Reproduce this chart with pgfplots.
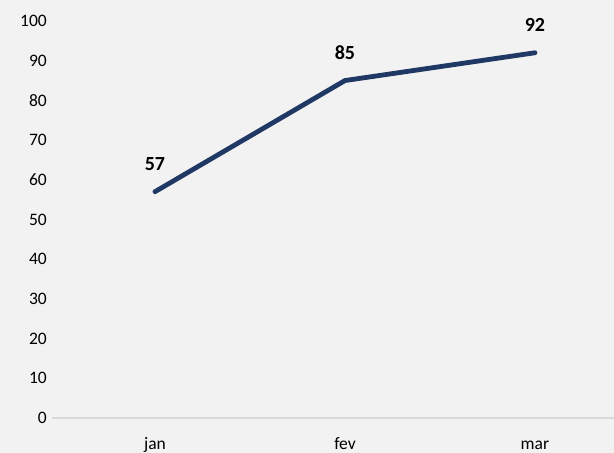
\documentclass[border=0pt]{standalone}
\usepackage{fontspec}
\setmainfont{Carlito}
\usepackage{pgfplots}
\pgfplotsset{compat=1.18}
\definecolor{bg}{HTML}{F2F2F2}
\definecolor{navy}{HTML}{203864}
\definecolor{axisgray}{HTML}{D9D9D9}

\begin{document}
\begin{tikzpicture}
\fill[bg] (0,0) rectangle (614bp,453bp);
\begin{axis}[
  at={(52bp,35bp)}, anchor=south west,
  scale only axis, width=562bp, height=397bp,
  xmin=-0.542, xmax=2.416, ymin=0, ymax=100,
  axis x line*=bottom, axis y line*=left,
  x axis line style={draw=axisgray, line width=1.5bp, -},
  y axis line style={draw=none},
  xtick={0,1,2}, xticklabels={jan,fev,mar},
  ytick={0,10,...,100},
  major tick length=0pt,
  /pgf/number format/assume math mode=true,
  tick label style={font=\fontsize{17.5bp}{20bp}\selectfont, text=black},
  xticklabel style={anchor=base, inner sep=0pt, yshift=-31bp},
  yticklabel style={anchor=east, inner sep=0pt, xshift=-5bp},
  clip=false,
  nodes near coords,
  nodes near coords style={anchor=base, inner sep=0pt, yshift=21bp,
    font=\fontsize{20bp}{22bp}\selectfont\bfseries, text=black},
]
\addplot[navy, line width=4.8bp, line join=round, line cap=round, mark=none]
  coordinates {(0,57) (1,85) (2,92)};
\end{axis}
\pgfresetboundingbox
\useasboundingbox (0,0) rectangle (614bp,453bp);
\end{tikzpicture}
\end{document}
